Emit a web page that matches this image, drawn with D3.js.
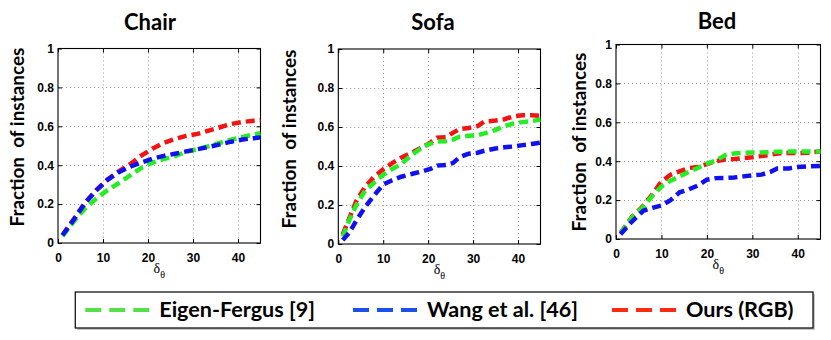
<!DOCTYPE html>
<html><head><meta charset="utf-8">
<script src="https://cdn.jsdelivr.net/npm/d3@7/dist/d3.min.js"></script>
<style>body{margin:0;background:#fff}svg{display:block}</style>
</head><body>
<svg id="c" width="831" height="340"></svg>
<script>
// ---------- data ----------
const categories = ['Chair', 'Sofa', 'Bed'];
const seriesNames = ['Eigen-Fergus [9]', 'Wang et al. [46]', 'Ours (RGB)'];
const xTicks = [0, 10, 20, 30, 40];
const yTicks = [0, 0.2, 0.4, 0.6, 0.8, 1];
const yTickLabels = ['0', '0.2', '0.4', '0.6', '0.8', '1'];

const chairX     = [1, 3.5, 6, 8.5, 11, 13.5, 16, 18.5, 21, 23.5, 26, 28.5, 31, 33.5, 36, 38.5, 41, 43.5, 45];
const chairEigen = [0.035, 0.11, 0.177, 0.228, 0.272, 0.308, 0.347, 0.386, 0.413, 0.432, 0.447, 0.469, 0.483, 0.498, 0.515, 0.531, 0.545, 0.558, 0.564];
const chairWang  = [0.04, 0.12, 0.205, 0.27, 0.325, 0.364, 0.392, 0.414, 0.433, 0.448, 0.459, 0.471, 0.482, 0.494, 0.507, 0.521, 0.532, 0.539, 0.543];
const chairOurs  = [0.04, 0.122, 0.207, 0.272, 0.326, 0.368, 0.405, 0.449, 0.485, 0.515, 0.535, 0.551, 0.561, 0.578, 0.595, 0.612, 0.622, 0.629, 0.632];

const sofaX     = [1, 2.5, 4, 6, 8, 10, 12, 14, 16.5, 19, 20.5, 22, 24, 25.5, 27, 29, 31, 32.5, 35, 37, 39, 41, 43, 45];
const sofaEigen = [0.038, 0.125, 0.2, 0.275, 0.315, 0.355, 0.385, 0.41, 0.46, 0.5, 0.515, 0.525, 0.527, 0.535, 0.55, 0.555, 0.558, 0.567, 0.585, 0.605, 0.618, 0.625, 0.63, 0.638];
const sofaWang  = [0.02, 0.06, 0.12, 0.19, 0.25, 0.305, 0.327, 0.345, 0.36, 0.375, 0.385, 0.402, 0.405, 0.415, 0.445, 0.463, 0.468, 0.478, 0.49, 0.496, 0.5, 0.507, 0.513, 0.52];
const sofaOurs  = [0.05, 0.135, 0.22, 0.295, 0.345, 0.383, 0.415, 0.443, 0.47, 0.5, 0.52, 0.545, 0.548, 0.57, 0.59, 0.595, 0.605, 0.628, 0.633, 0.64, 0.655, 0.66, 0.66, 0.657];

const bedX     = [1, 3.5, 6, 8, 10, 12, 14, 16, 18, 20, 22, 24, 26, 28, 30, 32, 34, 35.5, 38, 40, 42, 45];
const bedEigen = [0.03, 0.11, 0.165, 0.222, 0.27, 0.3, 0.322, 0.345, 0.365, 0.388, 0.404, 0.43, 0.44, 0.443, 0.445, 0.445, 0.446, 0.448, 0.45, 0.45, 0.45, 0.45];
const bedWang  = [0.025, 0.09, 0.145, 0.16, 0.172, 0.2, 0.24, 0.255, 0.275, 0.305, 0.313, 0.314, 0.316, 0.322, 0.327, 0.331, 0.345, 0.362, 0.363, 0.37, 0.373, 0.376];
const bedOurs  = [0.03, 0.113, 0.17, 0.23, 0.295, 0.33, 0.348, 0.365, 0.37, 0.385, 0.4, 0.409, 0.411, 0.416, 0.42, 0.427, 0.433, 0.44, 0.442, 0.442, 0.443, 0.45];

// ---------- layout / style ----------
const lineColors = ['#22ee22', '#1010f0', '#f41212'];
const legendColors = ['#55e04a', '#1a4ff0', '#ff2a10'];
const panels = [
  {title: categories[0], xs: chairX, ys: [chairEigen, chairWang, chairOurs], l: 58, r: 260.5, t: 48.5, b: 243, tx: 150, ty: 30, lx: 17, ly: 137},
  {title: categories[1], xs: sofaX, ys: [sofaEigen, sofaWang, sofaOurs], l: 338.3, r: 540.5, t: 49, b: 244, tx: 433, ty: 30, lx: 289, ly: 139},
  {title: categories[2], xs: bedX, ys: [bedEigen, bedWang, bedOurs], l: 616, r: 820.5, t: 44.5, b: 239, tx: 717, ty: 29, lx: 579, ly: 142}
];

const svg = d3.select('#c');
const SANS = "Lato, 'Open Sans', sans-serif";
const TICKF = "'Liberation Sans', Arial, sans-serif";

function fitSize(sel, base, target) {
  const len = sel.node().getComputedTextLength();
  sel.attr('font-size', base * target / len);
}

panels.forEach((p, pi) => {
  const x = d3.scaleLinear().domain([0, 45]).range([p.l, p.r]);
  const y = d3.scaleLinear().domain([0, 1]).range([p.b, p.t]);
  const g = svg.append('g');

  // grid
  g.append('g').selectAll('line').data(xTicks.filter(v => v > 0)).join('line')
    .attr('x1', d => Math.round(x(d)) + 0.5).attr('x2', d => Math.round(x(d)) + 0.5)
    .attr('y1', p.t).attr('y2', p.b)
    .attr('stroke', '#9a9a9a').attr('stroke-width', 1).attr('stroke-dasharray', '1,3');
  g.append('g').selectAll('line').data(yTicks.filter(v => v > 0 && v < 1)).join('line')
    .attr('y1', d => Math.round(y(d)) + 0.5).attr('y2', d => Math.round(y(d)) + 0.5)
    .attr('x1', p.l).attr('x2', p.r)
    .attr('stroke', '#9a9a9a').attr('stroke-width', 1).attr('stroke-dasharray', '1,3');

  // axes
  const ax = g.append('g').attr('transform', `translate(0,${p.b})`)
    .call(d3.axisBottom(x).tickValues(xTicks).tickSizeInner(-4).tickSizeOuter(0).tickPadding(10).tickFormat(d3.format('d')));
  const ay = g.append('g').attr('transform', `translate(${p.l},0)`)
    .call(d3.axisLeft(y).tickValues(yTicks).tickSizeInner(-4).tickSizeOuter(0).tickPadding(4).tickFormat((d, i) => yTickLabels[i]));
  const at = g.append('g').attr('transform', `translate(0,${p.t})`)
    .call(d3.axisTop(x).tickValues(xTicks).tickSizeInner(-4).tickSizeOuter(0).tickFormat(''));
  const ar = g.append('g').attr('transform', `translate(${p.r},0)`)
    .call(d3.axisRight(y).tickValues(yTicks).tickSizeInner(-4).tickSizeOuter(0).tickFormat(''));
  [ax, ay, at, ar].forEach(a => {
    a.select('.domain').remove();
    a.selectAll('line').attr('stroke', '#000');
    a.selectAll('text').attr('font-family', TICKF).attr('font-weight', 'bold').attr('font-size', 12).attr('fill', '#000');
  });

  // box
  g.append('rect').attr('x', p.l).attr('y', p.t).attr('width', p.r - p.l).attr('height', p.b - p.t)
    .attr('fill', 'none').attr('stroke', '#000').attr('stroke-width', 1.1);

  // lines: draw Ours, Eigen, Wang (Wang on top)
  const line = d3.line().x(d => x(d[0])).y(d => y(d[1]));
  [2, 0, 1].forEach(si => {
    const pts = p.xs.map((v, i) => [v, p.ys[si][i]]);
    g.append('path').datum(pts).attr('d', line)
      .attr('fill', 'none').attr('stroke', lineColors[si]).attr('stroke-width', 4.5)
      .attr('stroke-dasharray', '9,5').attr('stroke-linecap', 'butt').attr('stroke-linejoin', 'miter');
  });

  // title
  const tt = g.append('text').attr('x', p.tx).attr('y', p.ty).attr('text-anchor', 'middle')
    .attr('font-family', SANS).attr('font-weight', 'bold').attr('font-size', 22).attr('fill', '#000').text(p.title);

  // y label
  const yl = g.append('text').attr('transform', `translate(${p.lx + 7},${p.ly}) rotate(-90)`)
    .attr('text-anchor', 'middle').attr('font-family', SANS).attr('font-weight', 'bold').attr('font-size', 19)
    .attr('fill', '#000').attr('xml:space', 'preserve').style('white-space', 'pre').text('Fraction  of instances');
  fitSize(yl, 19, 179);

  // x label delta_theta
  const xl = g.append('text').attr('x', (p.l + p.r) / 2).attr('y', p.b + 30).attr('text-anchor', 'middle')
    .attr('font-family', "'Liberation Serif', 'DejaVu Serif', serif").attr('fill', '#000');
  xl.append('tspan').attr('font-size', 14).text('δ');
  xl.append('tspan').attr('font-size', 10).attr('dy', 5).text('θ');
});

// ---------- legend ----------
const LY = 292, LH = 36, LBASE = 317;
const lg = svg.append('g');
const shadow = lg.append('rect');
const box = lg.append('rect');
const texts = seriesNames.map((s, i) => lg.append('text').attr('y', LBASE)
  .attr('font-family', SANS).attr('font-weight', 'bold').attr('font-size', 19).attr('fill', '#000').text(s));
fitSize(texts[1], 19, 151);
const fs = +texts[1].attr('font-size');
texts.forEach(t => t.attr('font-size', fs));
texts[0].attr('x', 315).attr('text-anchor', 'end');
texts[1].attr('x', 427);
texts[2].attr('x', 686);
const starts = [315 - texts[0].node().getComputedTextLength(), 427, 686];
starts.forEach((s, i) => {
  lg.append('line').attr('x1', s - 74).attr('x2', s - 10).attr('y1', LY + LH / 2).attr('y2', LY + LH / 2)
    .attr('stroke', legendColors[i]).attr('stroke-width', 4).attr('stroke-dasharray', '16,8');
});
const boxL = starts[0] - 84, boxR = 813;
shadow.attr('x', boxL + 2).attr('y', LY + 2).attr('width', boxR - boxL).attr('height', LH).attr('fill', '#c8c8c8');
box.attr('x', boxL).attr('y', LY).attr('width', boxR - boxL).attr('height', LH)
  .attr('fill', '#fff').attr('stroke', '#000').attr('stroke-width', 1.2);
</script>
</body></html>
